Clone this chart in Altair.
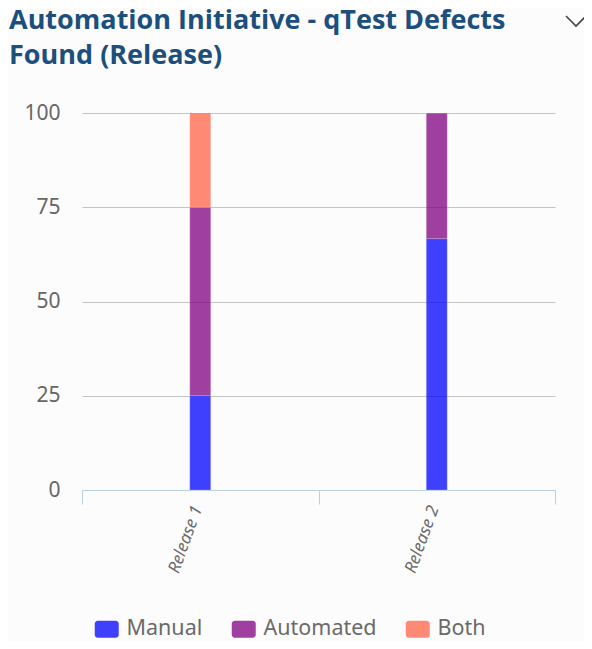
import altair as alt
import pandas as pd

releases = ["Release 1", "Release 1", "Release 1", "Release 2", "Release 2", "Release 2"]
types = ["Manual", "Automated", "Both", "Manual", "Automated", "Both"]
values = [25, 50, 25, 66.67, 33.33, 0]
order_idx = [0, 1, 2, 0, 1, 2]

type_domain = ["Manual", "Automated", "Both"]
type_colors = ["blue", "purple", "tomato"]
y_ticks = [0, 25, 50, 75, 100]

df = pd.DataFrame({"release": releases, "type": types, "value": values, "ord": order_idx})

legend_shape = ("M-0.9,-0.85 H0.9 A0.3,0.3 0 0 1 1.2,-0.55 V0.55 A0.3,0.3 0 0 1 0.9,0.85 "
                "H-0.9 A0.3,0.3 0 0 1 -1.2,0.55 V-0.55 A0.3,0.3 0 0 1 -0.9,-0.85 Z")

bars = alt.Chart(df).mark_bar(size=21, opacity=0.75, stroke="#ffffff", strokeWidth=0.6, strokeOpacity=0.4).encode(
    x=alt.X("release:N", title=None,
            scale=alt.Scale(paddingInner=0, paddingOuter=0),
            axis=alt.Axis(tickBand="extent", labelAngle=290, labelFontStyle="italic",
                          labelFont="Noto Sans", labelFontSize=17, labelColor="#6a6a6a",
                          domainColor="#bcd0e2", tickColor="#bcd0e2", tickSize=14,
                          labelPadding=2, labelOffset=-3, grid=False)),
    y=alt.Y("value:Q", title=None, stack="zero",
            scale=alt.Scale(domain=[0, 100], nice=False),
            axis=alt.Axis(values=y_ticks, domain=False, ticks=False, labelFont="Noto Sans",
                          labelFontSize=21, labelColor="#666666", labelPadding=22,
                          gridColor="#c4c4c4", gridWidth=1)),
    color=alt.Color("type:N", title=None,
                    scale=alt.Scale(domain=type_domain, range=type_colors),
                    legend=alt.Legend(orient="none", legendX=14, legendY=505, direction="horizontal",
                                      symbolType=legend_shape, symbolSize=400, symbolOpacity=0.75,
                                      symbolStrokeWidth=0, labelFontSize=21.5, labelFont="Noto Sans",
                                      labelColor="#6a6a6a", columnPadding=28, labelOffset=9)),
    order=alt.Order("ord:Q"),
)

chevron = alt.Chart(pd.DataFrame({"c": ["menu"]})).mark_point(
    shape="M-1,-0.5 L0,0.5 L1,-0.5", filled=False, size=400, strokeWidth=1.6,
    color="#444444", opacity=1
).encode(x=alt.value(494), y=alt.value(-92))

chart = alt.layer(bars, chevron).properties(
    width=473, height=377,
    title=alt.TitleParams(
        text=["Automation Initiative - qTest Defects", "Found (Release)"],
        anchor="start", frame="group", dx=-73, dy=57, offset=0, baseline="top",
        fontSize=27, font="Open Sans", fontWeight="bold", color="#1c4f7c", lineHeight=35,
    ),
    autosize=alt.AutoSizeParams(type="none"),
    padding={"left": 74, "top": 105, "right": 29, "bottom": 151},
    background="#fcfcfc",
).configure_view(stroke=None)

chart.save("out.html", embed_options={"renderer": "svg", "actions": False})
